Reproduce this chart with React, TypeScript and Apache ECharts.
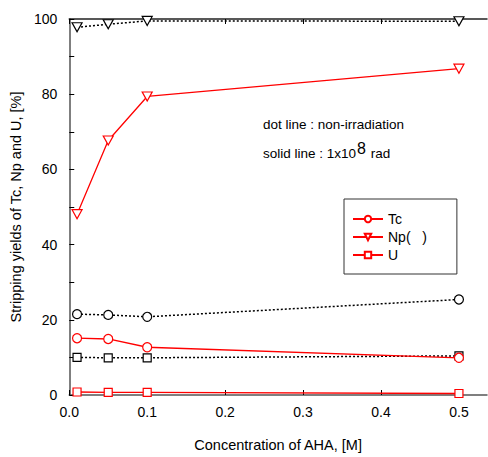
import React, { useEffect, useRef } from "react";
import * as echarts from "echarts";

// AHA concentration, [M]
const concentrations = [0.01, 0.05, 0.1, 0.5];

// Stripping yields, [%] — non-irradiated (dotted, black)
const tcDot = [21.5, 21.3, 20.8, 25.4];
const npDot = [97.8, 98.6, 99.5, 99.4];
const uDot = [10.0, 9.9, 9.9, 10.4];

// Stripping yields, [%] — irradiated at 1x10^8 rad (solid, red)
const tcSolid = [15.1, 14.9, 12.7, 9.9];
const npSolid = [48.1, 67.7, 79.4, 86.8];
const uSolid = [0.8, 0.7, 0.7, 0.4];

const xTicks = [0, 0.1, 0.2, 0.3, 0.4, 0.5];
const xLabels = ["0.0", "0.1", "0.2", "0.3", "0.4", "0.5"];
const yLabels = [0, 20, 40, 60, 80, 100];

const legendNames = ["Tc", "Np(   )", "U"];

const FONT = "'Liberation Sans', Arial, sans-serif";
const RED = "#ff0000";
const AXIS = "#555555";

const pairs = (ys: number[]) => concentrations.map((x, i) => [x, ys[i]]);

function lineSeries(
  name: string,
  ys: number[],
  symbol: string,
  solid: boolean,
  rotate = 0
) {
  const color = solid ? RED : "#000000";
  return {
    name,
    type: "line",
    data: pairs(ys),
    symbol,
    symbolSize: symbol === "triangle" ? [10, 9] : symbol === "rect" ? 8 : 9,
    symbolRotate: rotate,
    showAllSymbol: true,
    lineStyle: {
      color,
      width: solid ? 1.3 : 1.5,
      type: solid ? "solid" : [2, 2],
    },
    itemStyle: { color: "#ffffff", borderColor: color, borderWidth: 1.2 },
    z: solid ? 3 : 2,
  };
}

export default function App() {
  const ref = useRef<HTMLDivElement>(null);

  useEffect(() => {
    if (!ref.current) return;
    const chart = echarts.init(ref.current, undefined, { renderer: "svg" });
    chart.setOption({
      animation: false,
      backgroundColor: "#ffffff",
      textStyle: { fontFamily: FONT },
      grid: { left: 65, top: 19, right: 1, bottom: 59 },
      legend: {
        data: legendNames,
        orient: "vertical",
        left: 344,
        top: 199,
        width: 90,
        padding: [13, 30, 12, 8],
        itemWidth: 30,
        itemHeight: 8,
        itemGap: 4,
        borderColor: "#333333",
        borderWidth: 1,
        textStyle: { fontFamily: FONT, fontSize: 14, color: "#000" },
      },
      xAxis: [
        {
          type: "value",
          min: 0,
          max: 0.536,
          position: "bottom",
          name: "Concentration of AHA, [M]",
          nameLocation: "middle",
          nameGap: 42,
          nameTextStyle: { fontFamily: FONT, fontSize: 14.5, color: "#000" },
          axisLine: { show: true, lineStyle: { color: AXIS, width: 1.5 } },
          axisTick: {
            inside: true,
            length: 5,
            customValues: xTicks,
            lineStyle: { color: "#000" },
          },
          axisLabel: {
            customValues: xTicks,
            formatter: (v: number) => xLabels[xTicks.indexOf(Math.round(v * 10) / 10)] ?? "",
            margin: 10,
            fontFamily: FONT,
            fontSize: 14,
            color: "#000",
          },
          splitLine: { show: false },
        },
        {
          type: "value",
          min: 0,
          max: 0.536,
          position: "top",
          axisLine: { show: true, lineStyle: { color: "#222", width: 1.5 } },
          axisTick: {
            inside: true,
            length: 5,
            customValues: xTicks,
            lineStyle: { color: "#000" },
          },
          axisLabel: { show: false },
          splitLine: { show: false },
        },
      ],
      yAxis: {
        type: "value",
        min: 0,
        max: 100,
        interval: 10,
        name: "Stripping yields of Tc, Np and U, [%]",
        nameLocation: "middle",
        nameGap: 35,
        nameTextStyle: { fontFamily: FONT, fontSize: 14.5, color: "#000" },
        axisLine: { show: true, lineStyle: { color: AXIS, width: 1.5 } },
        axisTick: { inside: true, length: 5, lineStyle: { color: "#000" } },
        axisLabel: {
          customValues: yLabels,
          margin: 12,
          fontFamily: FONT,
          fontSize: 14,
          color: "#000",
        },
        splitLine: { show: false },
      },
      graphic: [
        {
          type: "text",
          left: 263,
          top: 117,
          style: {
            text: "dot line : non-irradiation",
            fontFamily: FONT,
            fontSize: 13.5,
            fill: "#000",
          },
        },
        {
          type: "text",
          left: 263,
          top: 140,
          style: {
            text: "solid line : 1x10{sup|8} rad",
            fontFamily: FONT,
            fontSize: 13.5,
            fill: "#000",
            rich: {
              sup: {
                fontFamily: FONT,
                fontSize: 16,
                padding: [0, 1, 10, 1],
              },
            },
          },
        },
      ],
      series: [
        lineSeries("Tc (non-irradiation)", tcDot, "circle", false),
        lineSeries("Np (non-irradiation)", npDot, "triangle", false, 180),
        lineSeries("U (non-irradiation)", uDot, "rect", false),
        lineSeries("Tc", tcSolid, "circle", true),
        lineSeries("Np(   )", npSolid, "triangle", true, 180),
        lineSeries("U", uSolid, "rect", true),
      ],
    });
    return () => chart.dispose();
  }, []);

  return (
    <div
      ref={ref}
      style={{ position: "fixed", left: 0, top: 0, width: 488, height: 457 }}
    />
  );
}
